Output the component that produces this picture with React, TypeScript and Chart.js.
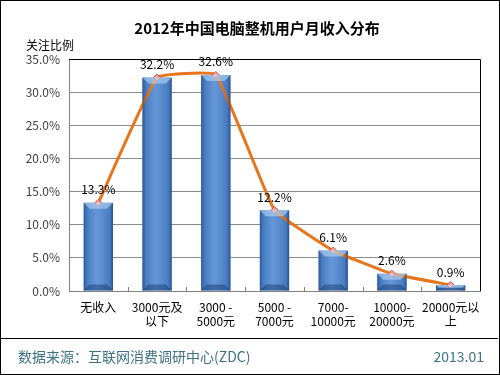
import React, { useEffect, useRef } from "react";
import { Chart, registerables } from "chart.js";

Chart.register(...registerables);

const categories: string[][] = [
  ["无收入"],
  ["3000元及", "以下"],
  ["3000 -", "5000元"],
  ["5000 -", "7000元"],
  ["7000-", "10000元"],
  ["10000-", "20000元"],
  ["20000元以", "上"],
];
const shares: number[] = [13.3, 32.2, 32.6, 12.2, 6.1, 2.6, 0.9];
const yTicks: number[] = [0, 5, 10, 15, 20, 25, 30, 35];
const titleText = "2012年中国电脑整机用户月收入分布";
const axisTitle = "关注比例";
const sourceText = "数据来源：互联网消费调研中心(ZDC)";
const dateText = "2013.01";

const FONT = "'Noto Sans CJK SC', 'DejaVu Sans', sans-serif";

const decorPlugin = {
  id: "decor",
  beforeDraw(chart: any) {
    const { ctx, width, height } = chart;
    ctx.save();
    ctx.fillStyle = "#ffffff";
    ctx.fillRect(0, 0, width, height);
    ctx.restore();
  },
  afterDatasetsDraw(chart: any) {
    const { ctx } = chart;
    const barMeta = chart.getDatasetMeta(0);
    ctx.save();
    barMeta.data.forEach((bar: any) => {
      const w = bar.width;
      const x0 = bar.x - w / 2;
      const top = Math.min(bar.y, bar.base);
      const h = Math.abs(bar.base - bar.y);
      const g = ctx.createLinearGradient(x0, 0, x0 + w, 0);
      g.addColorStop(0, "rgba(20,50,100,0.55)");
      g.addColorStop(0.12, "rgba(20,50,100,0.15)");
      g.addColorStop(0.45, "rgba(255,255,255,0.12)");
      g.addColorStop(0.88, "rgba(20,50,100,0.15)");
      g.addColorStop(1, "rgba(20,50,100,0.6)");
      ctx.fillStyle = g;
      ctx.fillRect(x0, top, w, h);
      const bev = Math.min(6, h / 2);
      ctx.fillStyle = "rgba(190,220,250,0.55)";
      ctx.beginPath();
      ctx.moveTo(x0, top);
      ctx.lineTo(x0 + w, top);
      ctx.lineTo(x0 + w - bev, top + bev);
      ctx.lineTo(x0 + bev, top + bev);
      ctx.closePath();
      ctx.fill();
      ctx.fillStyle = "rgba(20,50,100,0.45)";
      ctx.beginPath();
      ctx.moveTo(x0, top + h);
      ctx.lineTo(x0 + w, top + h);
      ctx.lineTo(x0 + w - bev, top + h - bev);
      ctx.lineTo(x0 + bev, top + h - bev);
      ctx.closePath();
      ctx.fill();
    });
    ctx.restore();
  },
  afterDraw(chart: any) {
    const { ctx, chartArea, width, height } = chart;
    ctx.save();
    ctx.strokeStyle = "#000000";
    ctx.lineWidth = 1;
    ctx.beginPath();
    ctx.moveTo(chartArea.left, chartArea.top + 0.5);
    ctx.lineTo(chartArea.right + 0.5, chartArea.top + 0.5);
    ctx.lineTo(chartArea.right + 0.5, chartArea.bottom);
    ctx.stroke();
    const xs = chart.scales.x;
    ctx.strokeStyle = "#808080";
    for (let i = 1; i < categories.length; i++) {
      const px = Math.round((xs.getPixelForValue(i - 1) + xs.getPixelForValue(i)) / 2) + 0.5;
      ctx.beginPath();
      ctx.moveTo(px, chartArea.bottom);
      ctx.lineTo(px, chartArea.bottom - 4);
      ctx.stroke();
    }
    const lineMeta = chart.getDatasetMeta(1);
    ctx.fillStyle = "#000000";
    ctx.font = "12px " + FONT;
    ctx.textAlign = "center";
    ctx.textBaseline = "bottom";
    lineMeta.data.forEach((pt: any, i: number) => {
      ctx.fillText(shares[i].toFixed(1) + "%", pt.x, pt.y - 7);
    });
    ctx.font = "bold 15px " + FONT;
    ctx.fillStyle = "#000000";
    ctx.textBaseline = "middle";
    ctx.fillText(titleText, 257, 28);
    ctx.font = "12px " + FONT;
    ctx.textAlign = "left";
    ctx.fillText(axisTitle, 26, 45);
    ctx.strokeStyle = "#000000";
    ctx.beginPath();
    ctx.moveTo(1, 338.5);
    ctx.lineTo(498, 338.5);
    ctx.stroke();
    ctx.fillStyle = "#3d7384";
    ctx.font = "14px " + FONT;
    ctx.textAlign = "left";
    ctx.fillText(sourceText, 18, 357);
    ctx.textAlign = "right";
    ctx.fillText(dateText, 484, 357);
    ctx.strokeStyle = "#000000";
    ctx.strokeRect(0.5, 0.5, width - 1, height - 1);
    ctx.restore();
  },
};

export default function App() {
  const ref = useRef<HTMLCanvasElement | null>(null);
  useEffect(() => {
    document.body.style.margin = "0";
    if (!ref.current) return;
    const chart = new Chart(ref.current, {
      type: "bar",
      data: {
        labels: categories as any,
        datasets: [
          {
            type: "bar",
            data: shares,
            backgroundColor: "#5089d2",
            borderWidth: 0,
            barPercentage: 0.5,
            categoryPercentage: 1,
            order: 2,
          },
          {
            type: "line",
            data: shares,
            borderColor: "#e8751a",
            borderWidth: 3,
            tension: 0.1,
            pointStyle: "rectRot",
            pointRadius: 3.5,
            pointBackgroundColor: "#f4a3a8",
            pointBorderColor: "#c0504d",
            pointBorderWidth: 1,
            order: 1,
          } as any,
        ],
      },
      options: {
        animation: false,
        responsive: false,
        events: [],
        layout: { padding: { left: 0, right: 20, top: 59, bottom: 0 } },
        plugins: {
          legend: { display: false },
          title: { display: false },
          tooltip: { enabled: false },
        },
        scales: {
          x: {
            grid: { display: false, drawTicks: false },
            border: { color: "#808080", width: 1 },
            ticks: {
              color: "#000000",
              font: { family: FONT, size: 12 },
              padding: 9,
              maxRotation: 0,
              autoSkip: false,
            },
            afterFit: (s: any) => {
              s.height = 84;
            },
          },
          y: {
            min: 0,
            max: 35,
            afterBuildTicks: (s: any) => {
              s.ticks = yTicks.map((v) => ({ value: v }));
            },
            grid: { color: "#8c8c8c", drawTicks: false },
            border: { color: "#808080", width: 1 },
            ticks: {
              color: "#404040",
              font: { family: FONT, size: 12 },
              padding: 9,
              callback: (v: any) => Number(v).toFixed(1) + "%",
            },
            afterFit: (s: any) => {
              s.width = 69;
            },
          },
        },
      },
      plugins: [decorPlugin],
    });
    return () => chart.destroy();
  }, []);
  return <canvas ref={ref} width={500} height={375} style={{ display: "block" }} />;
}
